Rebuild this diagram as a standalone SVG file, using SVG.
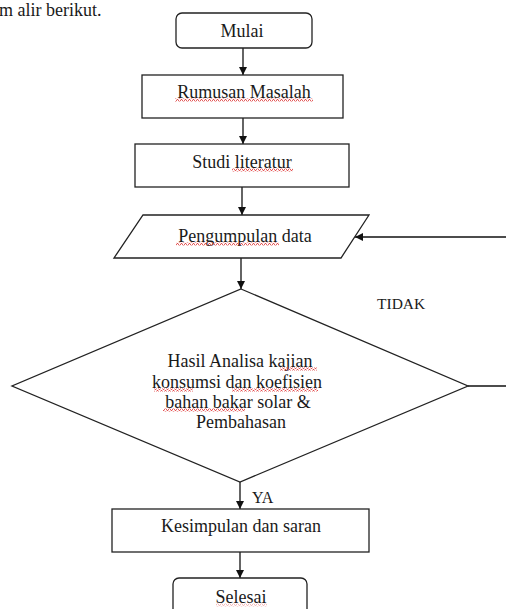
<svg xmlns="http://www.w3.org/2000/svg" width="506" height="609" viewBox="0 0 506 609">
<style>
.s{fill:#fff;stroke:#222;stroke-width:1.3}
.t{font-size:18px;fill:#1a1a1a;text-anchor:middle}
.c{stroke:#111;stroke-width:1.3;fill:none}
.sq{fill:url(#wave)}
</style>
<defs>
<marker id="ah" viewBox="0 0 10 10" refX="10" refY="5" markerWidth="8" markerHeight="8" markerUnits="userSpaceOnUse" orient="auto">
<path d="M0,0 L10,5 L0,10 Z" fill="#111"/>
</marker>
<pattern id="wave" width="4" height="3" patternUnits="userSpaceOnUse">
<path d="M0,2.5 L1,0.5 L2,0.5 L3,2.5 L4,2.5" fill="none" stroke="#d33" stroke-width="0.8"/>
</pattern>
</defs>
<g font-family="'Liberation Serif', 'Times New Roman', serif">
<text x="-1" y="16" class="t" style="text-anchor:start">m alir berikut.</text>
<g id="connectors">
<line class="c" x1="243" y1="48" x2="243" y2="75" marker-end="url(#ah)"/>
<line class="c" x1="243" y1="118" x2="243" y2="144" marker-end="url(#ah)"/>
<line class="c" x1="242" y1="187" x2="242" y2="215" marker-end="url(#ah)"/>
<line class="c" x1="241" y1="258" x2="241" y2="289" marker-end="url(#ah)"/>
<line class="c" x1="468" y1="386" x2="506" y2="386"/>
<line class="c" x1="506" y1="237" x2="355" y2="237" marker-end="url(#ah)"/>
<line class="c" x1="240" y1="482" x2="240" y2="509" marker-end="url(#ah)"/>
<line class="c" x1="240" y1="552" x2="240" y2="578" marker-end="url(#ah)"/>
<text x="377" y="309" class="t" style="text-anchor:start;font-size:15.5px">TIDAK</text>
<text x="252" y="503" class="t" style="text-anchor:start;font-size:16px">YA</text>
</g>
<g id="mulai">
<rect class="s" x="176" y="13" width="136" height="35" rx="6"/>
<text x="242" y="37" class="t">Mulai</text>
</g>
<g id="rumusan">
<rect class="s" x="142" y="75" width="201" height="43"/>
<text x="244" y="98" class="t">Rumusan Masalah</text>
<rect class="sq" x="175" y="98.5" width="138" height="3"/>
</g>
<g id="studi">
<rect class="s" x="135" y="144" width="214" height="43"/>
<text x="242" y="168" class="t">Studi literatur</text>
<rect class="sq" x="232" y="168.5" width="61" height="3"/>
</g>
<g id="pengumpulan">
<polygon class="s" points="143,215 369,215 341,258 114,258"/>
<text x="245" y="242" class="t">Pengumpulan data</text>
<rect class="sq" x="176" y="242.5" width="103" height="3"/>
</g>
<g id="hasil">
<polygon class="s" points="241,289 468,386 240,482 12,386"/>
<text x="240" y="367" class="t">Hasil Analisa kajian</text>
<text x="237" y="388" class="t">konsumsi dan koefisien</text>
<text x="238" y="408" class="t">bahan bakar solar &amp;</text>
<text x="241" y="428" class="t">Pembahasan</text>
<rect class="sq" x="280" y="367.5" width="37" height="3"/>
<rect class="sq" x="154" y="388.5" width="39" height="3"/>
<rect class="sq" x="232" y="388.5" width="86" height="3"/>
<rect class="sq" x="163" y="408.5" width="82" height="3"/>
</g>
<g id="kesimpulan">
<rect class="s" x="112" y="509" width="257" height="43"/>
<text x="241" y="532" class="t">Kesimpulan dan saran</text>
</g>
<g id="selesai">
<rect class="s" x="173" y="578" width="134" height="38" rx="6"/>
<text x="241" y="603" class="t">Selesai</text>
<rect class="sq" x="216" y="603.5" width="51" height="3" opacity="0.4"/>
</g>
</g>
</svg>
